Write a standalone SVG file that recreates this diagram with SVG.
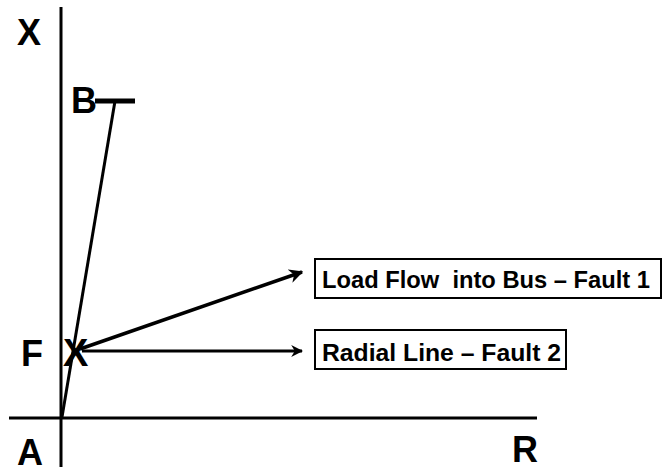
<svg xmlns="http://www.w3.org/2000/svg" width="665" height="467" viewBox="0 0 665 467">
<style>
.ax{stroke:#000;stroke-width:3;fill:none}
.lbl{font-family:"Liberation Sans",Arial,sans-serif;font-weight:bold;fill:#000}
.big{font-size:36px}
.box{fill:#fff;stroke:#000;stroke-width:2}
.bt{font-size:24px;white-space:pre}
.arr{stroke:#000;stroke-width:3;fill:none;marker-end:url(#ah)}
</style>
<defs>
<marker id="ah" viewBox="0 0 10 10" refX="9" refY="5" markerWidth="4" markerHeight="4" orient="auto" markerUnits="strokeWidth">
<path d="M0,0 L10,5 L0,10 L3,5 Z" fill="#000"/>
</marker>
</defs>
<g id="axes">
<line class="ax" x1="61" y1="7" x2="61" y2="467"/>
<line class="ax" x1="9" y1="418" x2="537" y2="418"/>
</g>
<g id="axis-labels">
<text class="lbl big" x="17" y="45">X</text>
<text class="lbl big" x="21" y="366">F</text>
<text class="lbl big" x="17" y="465">A</text>
<text class="lbl big" x="512" y="462">R</text>
</g>
<g id="bus-B">
<text class="lbl big" x="71" y="113">B</text>
<line x1="95" y1="101" x2="135" y2="101" stroke="#000" stroke-width="5"/>
</g>
<g id="connectors">
<line class="ax" x1="62" y1="417" x2="115" y2="101"/>
<line class="arr" x1="80" y1="349" x2="302" y2="272" style="stroke-width:3.5"/>
<line class="arr" x1="82" y1="351" x2="302" y2="351"/>
</g>
<g id="fault-F">
<text class="lbl" x="63" y="366" style="font-size:38px">X</text>
</g>
<g id="box-fault1">
<rect class="box" x="315" y="259" width="346" height="39"/>
<text class="lbl bt" x="322" y="288" xml:space="preserve" textLength="328" lengthAdjust="spacingAndGlyphs">Load Flow  into Bus – Fault 1</text>
</g>
<g id="box-fault2">
<rect class="box" x="315" y="330" width="251" height="39"/>
<text class="lbl bt" x="322" y="361" textLength="239" lengthAdjust="spacingAndGlyphs">Radial Line – Fault 2</text>
</g>
</svg>
